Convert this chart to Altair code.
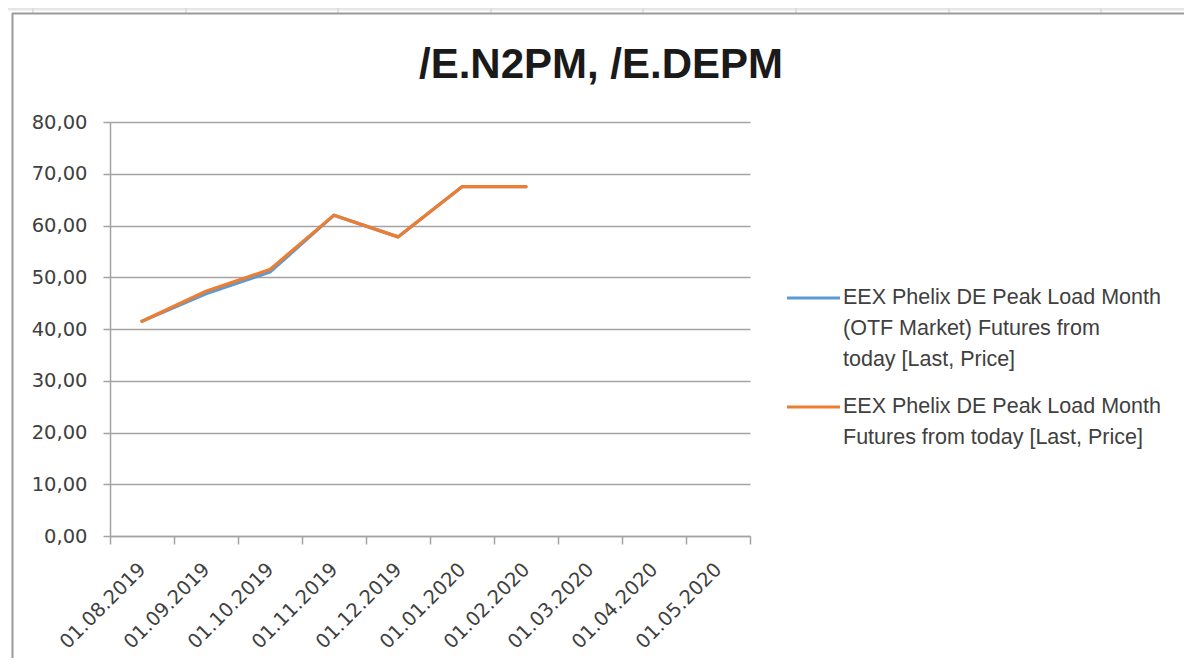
import altair as alt
import pandas as pd

# ---- data ----
dates = ["01.08.2019", "01.09.2019", "01.10.2019", "01.11.2019", "01.12.2019",
         "01.01.2020", "01.02.2020", "01.03.2020", "01.04.2020", "01.05.2020"]
otf_values = [41.5, 46.8, 51.0, 62.0, 57.8, 67.5, 67.5]
phelix_values = [41.5, 47.3, 51.5, 62.0, 57.8, 67.5, 67.5]
series_otf = "EEX Phelix DE Peak Load Month (OTF Market) Futures from today [Last, Price]"
series_phelix = "EEX Phelix DE Peak Load Month Futures from today [Last, Price]"
y_ticks = [0, 10, 20, 30, 40, 50, 60, 70, 80]
title_text = "/E.N2PM, /E.DEPM"
legend_otf_lines = ["EEX Phelix DE Peak Load Month", "(OTF Market) Futures from", "today [Last, Price]"]
legend_phelix_lines = ["EEX Phelix DE Peak Load Month", "Futures from today [Last, Price]"]

BLUE = "#5B9BD5"
ORANGE = "#ED7D31"
GRID = "#a3a3a3"
TXT = "#404040"

rows = []
for d, v in zip(dates, otf_values):
    rows.append({"date": d, "value": v, "series": series_otf})
for d, v in zip(dates, phelix_values):
    rows.append({"date": d, "value": v, "series": series_phelix})
df = pd.DataFrame(rows)

W, H = 640, 414

lines = alt.Chart(df).mark_line(strokeWidth=3.2, strokeCap="round", strokeJoin="round").encode(
    x=alt.X("date:O", sort=dates, bandPosition=0.5,
            scale=alt.Scale(type="band", domain=dates, paddingInner=0, paddingOuter=0),
            axis=alt.Axis(title=None, tickBand="extent", labelAngle=315, labelAlign="right",
                          labelBaseline="middle", labelOffset=0, labelPadding=22,
                          tickSize=8, tickColor=GRID, tickWidth=1.5,
                          domainColor=GRID, domainWidth=1.5,
                          labelFont="DejaVu Sans", labelFontSize=19.5, labelColor=TXT,
                          grid=False, labelOverlap=False)),
    y=alt.Y("value:Q",
            scale=alt.Scale(domain=[0, 80], nice=False, zero=True),
            axis=alt.Axis(title=None, values=y_ticks,
                          labelExpr="replace(format(datum.value, '.2f'), '.', ',')",
                          labelFont="DejaVu Sans", labelFontSize=19.5, labelColor=TXT,
                          labelPadding=16, tickSize=7, tickColor=GRID, tickWidth=1.5,
                          domainColor=GRID, domainWidth=1.5,
                          grid=True, gridColor=GRID, gridWidth=1.5)),
    color=alt.Color("series:N",
                    scale=alt.Scale(domain=[series_otf, series_phelix], range=[BLUE, ORANGE]),
                    legend=None),
    order=alt.Order("series:N"),
)

one = pd.DataFrame({"k": [0]})


def text_layer(s, x, y, size, font, color, weight="normal", align="left", baseline="middle"):
    return alt.Chart(pd.DataFrame({"t": [s]})).mark_text(
        font=font, fontSize=size, fontWeight=weight, color=color,
        align=align, baseline=baseline
    ).encode(x=alt.value(x), y=alt.value(y), text="t:N")


def rule_layer(x, x2, y, y2, color, width):
    return alt.Chart(one).mark_rule(color=color, strokeWidth=width).encode(
        x=alt.value(x), x2=alt.value(x2), y=alt.value(y), y2=alt.value(y2))


layers = []
# spreadsheet / chart-frame decoration
layers.append(rule_layer(-102, 1080, -113, -113, "#e6e6e6", 3))
for cx in [33, 186, 338, 491, 643, 796, 949, 1101]:
    layers.append(rule_layer(cx - 110, cx - 110, -114, -108, "#d9d9d9", 1.5))
layers.append(rule_layer(-98, 1080, -108.5, -108.5, "#9a9a9a", 2))
layers.append(rule_layer(-97.5, -97.5, -109, 540, "#9a9a9a", 2))

layers.append(lines)

# title
layers.append(text_layer(title_text, 491, -44, 42, "Liberation Sans", "#1a1a1a",
                         weight="bold", align="center", baseline="alphabetic"))

# legend
lx0, lx1, tx = 677, 730, 733
y0 = 176
layers.append(rule_layer(lx0, lx1, y0, y0, BLUE, 3))
for i, s in enumerate(legend_otf_lines):
    layers.append(text_layer(s, tx, y0 + i * 31, 21.5, "Liberation Sans", TXT))
y1 = 285
layers.append(rule_layer(lx0, lx1, y1, y1, ORANGE, 3))
for i, s in enumerate(legend_phelix_lines):
    layers.append(text_layer(s, tx, y1 + i * 31, 21.5, "Liberation Sans", TXT))

chart = alt.layer(*layers).properties(
    width=W, height=H,
    padding={"left": 102, "top": 114, "right": 1176 - 102 - W, "bottom": 650 - 114 - H},
    autosize=alt.AutoSizeParams(type="none"),
    background="white",
).configure_view(stroke=None)

chart.save("out.html", embed_options={"renderer": "svg", "actions": False})
